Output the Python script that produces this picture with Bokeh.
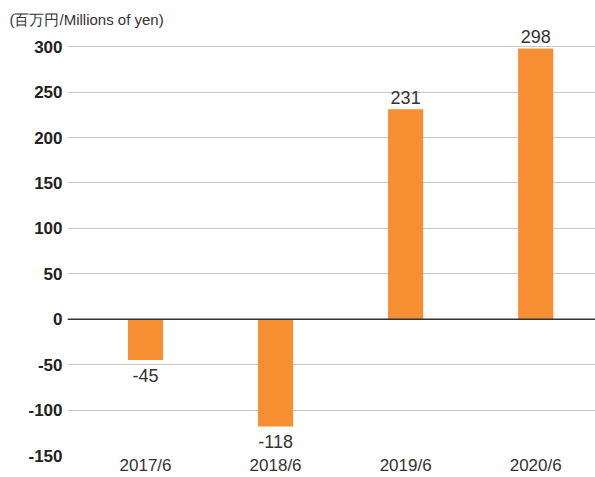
from bokeh.plotting import figure
from bokeh.models import ColumnDataSource, Range1d, FixedTicker, Span, Title
from bokeh.core.properties import value
from bokeh.embed import file_html
from bokeh.resources import INLINE

categories = ["2017/6", "2018/6", "2019/6", "2020/6"]
values = [-45, -118, 231, 298]
y_ticks = [-150, -100, -50, 0, 50, 100, 150, 200, 250, 300]
unit_label = "(百万円/Millions of yen)"

xs = list(range(len(categories)))
src = ColumnDataSource(dict(x=xs, top=values))
pos = ColumnDataSource(dict(x=[x for x, v in zip(xs, values) if v >= 0],
                            y=[v for v in values if v >= 0],
                            label=[str(v) for v in values if v >= 0]))
neg = ColumnDataSource(dict(x=[x for x, v in zip(xs, values) if v < 0],
                            y=[v for v in values if v < 0],
                            label=[str(v) for v in values if v < 0]))

FONT = "Liberation Sans"

p = figure(width=595, height=477, output_backend="svg", toolbar_location=None,
           x_range=Range1d(-0.6, 3.46), y_range=Range1d(-150, 320),
           min_border_left=67, min_border_right=0, min_border_bottom=20, min_border_top=28)
p.title = Title(text=unit_label, text_font=FONT, text_font_size="15px",
                text_font_style="normal", text_color="#333333", offset=-58,
                standoff=2)
p.outline_line_color = None
p.background_fill_color = "white"
p.border_fill_color = "white"

p.vbar(x="x", top="top", bottom=0, width=0.27, source=src,
       fill_color="#F58F31", line_color=None)

p.add_layout(Span(location=0, dimension="width", line_color="#333333", line_width=1.5))

p.text(x="x", y="y", text="label", source=pos, text_align="center",
       text_baseline="bottom", y_offset=-5, text_font=value(FONT),
       text_font_size="18px", text_color="#333333")
p.text(x="x", y="y", text="label", source=neg, text_align="center",
       text_baseline="top", y_offset=9, text_font=value(FONT),
       text_font_size="18px", text_color="#333333")

p.yaxis.ticker = FixedTicker(ticks=y_ticks)
p.yaxis.major_label_overrides = {t: str(t) for t in y_ticks}
p.ygrid.ticker = FixedTicker(ticks=y_ticks)
p.ygrid.grid_line_color = "#c8c8c8"
p.ygrid.grid_line_width = 1
p.xgrid.grid_line_color = None
p.yaxis.axis_line_color = None
p.yaxis.major_tick_line_color = None
p.yaxis.minor_tick_line_color = None
p.yaxis.major_tick_out = 0
p.yaxis.major_tick_in = 0
p.yaxis.major_label_standoff = 5
p.yaxis.major_label_text_font = FONT
p.yaxis.major_label_text_font_size = "17px"
p.yaxis.major_label_text_font_style = "bold"
p.yaxis.major_label_text_color = "#222222"

p.xaxis.ticker = FixedTicker(ticks=xs)
p.xaxis.major_label_overrides = {i: c for i, c in zip(xs, categories)}
p.xaxis.axis_line_color = None
p.xaxis.major_tick_line_color = None
p.xaxis.minor_tick_line_color = None
p.xaxis.major_tick_out = 0
p.xaxis.major_tick_in = 0
p.xaxis.major_label_standoff = 0
p.xaxis.major_label_text_font = FONT
p.xaxis.major_label_text_font_size = "17px"
p.xaxis.major_label_text_color = "#333333"

open("out.html", "w").write(file_html(p, INLINE))
